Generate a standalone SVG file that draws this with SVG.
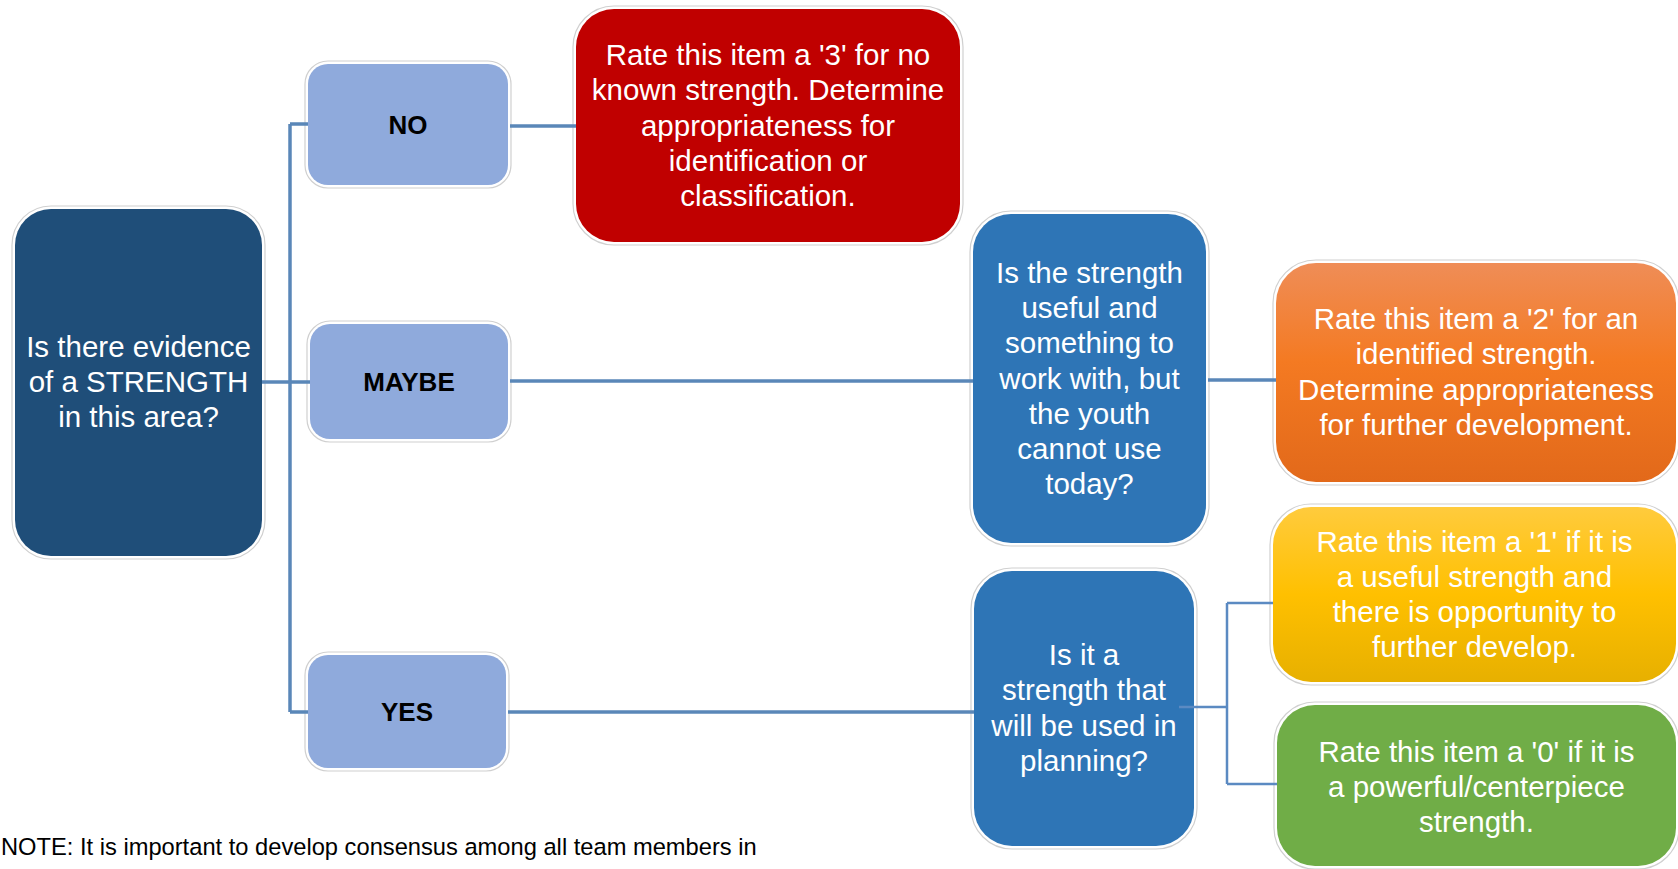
<svg xmlns="http://www.w3.org/2000/svg" width="1678" height="869" viewBox="0 0 1678 869">
<defs>
<style>
.rim{fill:#fff;stroke:#d0d0d0;stroke-width:1.2}
.t{font-family:"Liberation Sans",Arial,sans-serif;font-size:29.5px;fill:#fff;text-anchor:middle}
.lbl{font-family:"Liberation Sans",Arial,sans-serif;font-size:26px;font-weight:bold;fill:#000;text-anchor:middle}
.note{font-family:"Liberation Sans",Arial,sans-serif;font-size:23.7px;fill:#000}
.c{fill:none;stroke:#5A87B8;stroke-width:3.5}
.c2{fill:none;stroke:#5B8AC2;stroke-width:2.5}
</style>
<linearGradient id="gOrange" x1="0" y1="0" x2="0" y2="1">
<stop offset="0" stop-color="#EF8D57"/>
<stop offset="0.45" stop-color="#F47A22"/>
<stop offset="1" stop-color="#E2691A"/>
</linearGradient>
<linearGradient id="gYellow" x1="0" y1="0" x2="0" y2="1">
<stop offset="0" stop-color="#FFCB3D"/>
<stop offset="0.5" stop-color="#FFC000"/>
<stop offset="1" stop-color="#E7B000"/>
</linearGradient>
</defs>
<rect width="1678" height="869" fill="#fff"/>

<g id="root">
<rect class="rim" x="12" y="206" width="253" height="353" rx="39"/>
<rect x="15" y="209" width="247" height="347" rx="36" fill="#1F4E79"/>
<text class="t" x="138.5" y="357">Is there evidence</text>
<text class="t" x="138.5" y="392">of a STRENGTH</text>
<text class="t" x="138.5" y="427">in this area?</text>
</g>

<g id="no">
<rect class="rim" x="305" y="61" width="206" height="127" rx="23"/>
<rect x="308" y="64" width="200" height="121" rx="20" fill="#8FAADC"/>
<text class="lbl" x="408" y="134">NO</text>
</g>

<g id="maybe">
<rect class="rim" x="307" y="321" width="204" height="121" rx="23"/>
<rect x="310" y="324" width="198" height="115" rx="20" fill="#8FAADC"/>
<text class="lbl" x="409" y="391">MAYBE</text>
</g>

<g id="yes">
<rect class="rim" x="305" y="652" width="204" height="119" rx="23"/>
<rect x="308" y="655" width="198" height="113" rx="20" fill="#8FAADC"/>
<text class="lbl" x="407" y="721">YES</text>
</g>

<g id="rate3">
<rect class="rim" x="573" y="6" width="390" height="239" rx="41"/>
<rect x="576" y="9" width="384" height="233" rx="38" fill="#C00000"/>
<text class="t" x="768" y="65">Rate this item a '3' for no</text>
<text class="t" x="768" y="100">known strength. Determine</text>
<text class="t" x="768" y="136">appropriateness for</text>
<text class="t" x="768" y="171">identification or</text>
<text class="t" x="768" y="206">classification.</text>
</g>

<g id="useful">
<rect class="rim" x="970" y="211" width="239" height="335" rx="41"/>
<rect x="973" y="214" width="233" height="329" rx="38" fill="#2E75B6"/>
<text class="t" x="1089.5" y="283">Is the strength</text>
<text class="t" x="1089.5" y="318">useful and</text>
<text class="t" x="1089.5" y="353">something to</text>
<text class="t" x="1089.5" y="388.5">work with, but</text>
<text class="t" x="1089.5" y="424">the youth</text>
<text class="t" x="1089.5" y="459">cannot use</text>
<text class="t" x="1089.5" y="494">today?</text>
</g>

<g id="rate2">
<rect class="rim" x="1273" y="260" width="406" height="225" rx="43"/>
<rect x="1276" y="263" width="400" height="219" rx="40" fill="url(#gOrange)"/>
<text class="t" x="1476" y="329">Rate this item a '2' for an</text>
<text class="t" x="1476" y="364">identified strength.</text>
<text class="t" x="1476" y="400">Determine appropriateness</text>
<text class="t" x="1476" y="435">for further development.</text>
</g>

<g id="planning">
<rect class="rim" x="971" y="568" width="226" height="281" rx="41"/>
<rect x="974" y="571" width="220" height="275" rx="38" fill="#2E75B6"/>
<text class="t" x="1084" y="665">Is it a</text>
<text class="t" x="1084" y="700">strength that</text>
<text class="t" x="1084" y="736">will be used in</text>
<text class="t" x="1084" y="771">planning?</text>
</g>

<g id="rate1">
<rect class="rim" x="1270" y="504" width="409" height="181" rx="41"/>
<rect x="1273" y="507" width="403" height="175" rx="38" fill="url(#gYellow)"/>
<text class="t" x="1474.5" y="552">Rate this item a '1' if it is</text>
<text class="t" x="1474.5" y="587">a useful strength and</text>
<text class="t" x="1474.5" y="622">there is opportunity to</text>
<text class="t" x="1474.5" y="657">further develop.</text>
</g>

<g id="rate0">
<rect class="rim" x="1274" y="702" width="405" height="167" rx="41"/>
<rect x="1277" y="705" width="399" height="161" rx="38" fill="#70AD47"/>
<text class="t" x="1476.5" y="762">Rate this item a '0' if it is</text>
<text class="t" x="1476.5" y="797">a powerful/centerpiece</text>
<text class="t" x="1476.5" y="832">strength.</text>
</g>

<g id="connectors">
<path class="c" d="M262 382 H290" stroke-width="5"/>
<path class="c" d="M290 124 V712"/>
<path class="c" d="M290 124 H308 M290 382 H310 M290 712 H308"/>
<path class="c" d="M510 126 H576"/>
<path class="c" d="M510 381 H973"/>
<path class="c" d="M1208 380 H1276"/>
<path class="c" d="M508 712 H974"/>
<path class="c2" d="M1179 707 H1227 M1227 603 V784 M1227 603 H1273 M1227 784 H1277"/>
</g>

<g id="note">
<text class="note" x="1" y="855">NOTE: It is important to develop consensus among all team members in</text>
</g>
</svg>
